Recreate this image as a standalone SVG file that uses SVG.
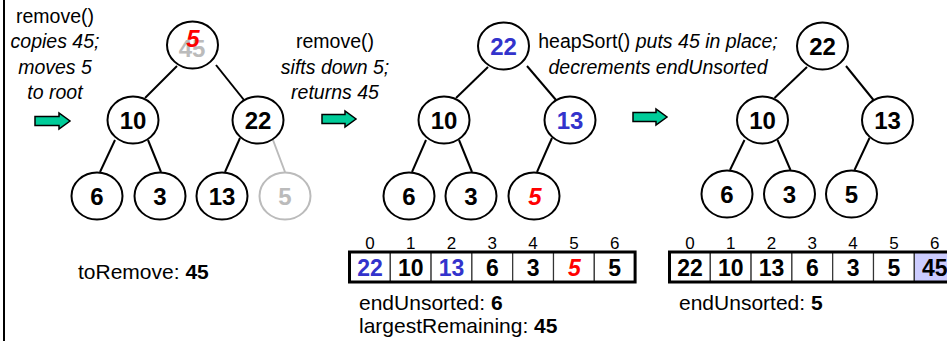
<svg xmlns="http://www.w3.org/2000/svg" width="947" height="341" viewBox="0 0 947 341">
<style>
.lbl{font-family:"Liberation Sans",Arial,sans-serif;font-size:19.5px;fill:#000;text-anchor:middle}
.it{font-style:italic}
.nd{fill:#fff;stroke:#000;stroke-width:2}
.nt{font-family:"Liberation Sans",Arial,sans-serif;font-size:24px;font-weight:bold;text-anchor:middle;fill:#000}
.idx{font-family:"Liberation Sans",Arial,sans-serif;font-size:17px;text-anchor:middle;fill:#000}
.cv{font-family:"Liberation Sans",Arial,sans-serif;font-size:23px;font-weight:bold;text-anchor:middle;fill:#000}
text.gray{fill:#bbb}
text.red{fill:#f00;font-style:italic}
text.blue{fill:#3333cc}
.edge{stroke:#000;stroke-width:2;fill:none}
.arrow{fill:#00cc99;stroke:#000;stroke-width:1.5;stroke-linejoin:miter}
.info{font-family:"Liberation Sans",Arial,sans-serif;font-size:21px;fill:#000}
.b{font-weight:bold}
.cell{fill:#fff;stroke:#333;stroke-width:1.2}
.frame{fill:none;stroke:#000;stroke-width:3}
</style>
<line x1="4" y1="0" x2="4" y2="341" stroke="#000" stroke-width="2"/>

<g id="labels">
<text class="lbl" x="55" y="22.5">remove()</text>
<text class="lbl it" x="55" y="48">copies 45;</text>
<text class="lbl it" x="55" y="73.5">moves 5</text>
<text class="lbl it" x="55" y="99">to root</text>
<text class="lbl" x="335" y="48">remove()</text>
<text class="lbl it" x="335" y="73.5">sifts down 5;</text>
<text class="lbl it" x="335" y="99">returns 45</text>
<text class="lbl" x="658" y="48">heapSort() <tspan class="it">puts 45 in place;</tspan></text>
<text class="lbl it" x="658" y="73.5">decrements endUnsorted</text>
</g>

<g id="arrows">
<path class="arrow" d="M35,116.5 H59 V113 L70,121 L59,129 V125.5 H35 Z"/>
<path class="arrow" d="M322,114.5 H345 V111 L356,119 L345,127 V123.5 H322 Z"/>
<path class="arrow" d="M633,112.5 H656 V109 L667,117 L656,125 V121.5 H633 Z"/>
</g>

<g id="connectors">
<line class="edge" x1="177" y1="66" x2="145" y2="98"/>
<line class="edge" x1="216" y1="65" x2="244" y2="100"/>
<line class="edge" x1="115" y1="140" x2="100" y2="172"/>
<line class="edge" x1="148" y1="140" x2="161" y2="172"/>
<line class="edge" x1="240" y1="138" x2="225" y2="172"/>
<line class="edge" x1="273" y1="140" x2="285" y2="172" style="stroke:#bbb"/>
<line class="edge" x1="488" y1="67" x2="456" y2="98"/>
<line class="edge" x1="527" y1="66" x2="556" y2="100"/>
<line class="edge" x1="426" y1="140" x2="412" y2="172"/>
<line class="edge" x1="459" y1="140" x2="472" y2="172"/>
<line class="edge" x1="552" y1="138" x2="537" y2="172"/>
<line class="edge" x1="807" y1="67" x2="774.5" y2="98"/>
<line class="edge" x1="846" y1="66" x2="873.5" y2="100"/>
<line class="edge" x1="744.5" y1="140" x2="730" y2="170"/>
<line class="edge" x1="777.5" y1="140" x2="790.5" y2="170"/>
<line class="edge" x1="869.5" y1="138" x2="854.5" y2="170"/>
</g>

<g id="t1-root"><ellipse class="nd" cx="192.5" cy="45" rx="25.5" ry="23.5"/><text class="nt gray" x="192" y="56.5">45</text><text class="nt red" x="193" y="46.5">5</text></g>
<g id="t1-10"><ellipse class="nd" cx="133" cy="120" rx="25.5" ry="23.5"/><text class="nt" x="133" y="129">10</text></g>
<g id="t1-22"><ellipse class="nd" cx="258" cy="120" rx="25.5" ry="23.5"/><text class="nt" x="258" y="129">22</text></g>
<g id="t1-6"><ellipse class="nd" cx="97" cy="196" rx="25.5" ry="23.5"/><text class="nt" x="97" y="205">6</text></g>
<g id="t1-3"><ellipse class="nd" cx="160" cy="196" rx="25.5" ry="23.5"/><text class="nt" x="160" y="205">3</text></g>
<g id="t1-13"><ellipse class="nd" cx="222" cy="196" rx="25.5" ry="23.5"/><text class="nt" x="222" y="205">13</text></g>
<g id="t1-5"><ellipse class="nd" cx="285" cy="196" rx="25.5" ry="23.5" style="stroke:#bbb"/><text class="nt gray" x="285" y="205">5</text></g>

<g id="t2-root"><ellipse class="nd" cx="503.5" cy="46" rx="25.5" ry="23.5"/><text class="nt blue" x="503.5" y="55">22</text></g>
<g id="t2-10"><ellipse class="nd" cx="444" cy="120" rx="25.5" ry="23.5"/><text class="nt" x="444" y="129">10</text></g>
<g id="t2-13"><ellipse class="nd" cx="570" cy="120" rx="25.5" ry="23.5"/><text class="nt blue" x="570" y="129">13</text></g>
<g id="t2-6"><ellipse class="nd" cx="409" cy="196" rx="25.5" ry="23.5"/><text class="nt" x="409" y="205">6</text></g>
<g id="t2-3"><ellipse class="nd" cx="471" cy="196" rx="25.5" ry="23.5"/><text class="nt" x="471" y="205">3</text></g>
<g id="t2-5"><ellipse class="nd" cx="534" cy="196" rx="25.5" ry="23.5"/><text class="nt red" x="535" y="205">5</text></g>

<g id="t3-root"><ellipse class="nd" cx="822.5" cy="46" rx="25.5" ry="23.5"/><text class="nt" x="822.5" y="55">22</text></g>
<g id="t3-10"><ellipse class="nd" cx="762.5" cy="120" rx="25.5" ry="23.5"/><text class="nt" x="762.5" y="129">10</text></g>
<g id="t3-13"><ellipse class="nd" cx="887.5" cy="120" rx="25.5" ry="23.5"/><text class="nt" x="887.5" y="129">13</text></g>
<g id="t3-6"><ellipse class="nd" cx="727" cy="194" rx="25.5" ry="23.5"/><text class="nt" x="727" y="203">6</text></g>
<g id="t3-3"><ellipse class="nd" cx="789.5" cy="194" rx="25.5" ry="23.5"/><text class="nt" x="789.5" y="203">3</text></g>
<g id="t3-5"><ellipse class="nd" cx="851.5" cy="194" rx="25.5" ry="23.5"/><text class="nt" x="851.5" y="203">5</text></g>

<g id="array1">
<rect class="cell" x="349.5" y="252" width="40.8" height="30"/>
<rect class="cell" x="390.3" y="252" width="40.8" height="30"/>
<rect class="cell" x="431.1" y="252" width="40.8" height="30"/>
<rect class="cell" x="471.9" y="252" width="40.8" height="30"/>
<rect class="cell" x="512.7" y="252" width="40.8" height="30"/>
<rect class="cell" x="553.5" y="252" width="40.8" height="30"/>
<rect class="cell" x="594.3" y="252" width="40.8" height="30"/>
<rect class="frame" x="349.5" y="252" width="285.6" height="30"/>
<text class="idx" x="370" y="249">0</text><text class="idx" x="410.7" y="249">1</text><text class="idx" x="451.5" y="249">2</text><text class="idx" x="492.3" y="249">3</text><text class="idx" x="533.1" y="249">4</text><text class="idx" x="573.9" y="249">5</text><text class="idx" x="614.7" y="249">6</text>
<text class="cv blue" x="370" y="275.5">22</text><text class="cv" x="410.7" y="275.5">10</text><text class="cv blue" x="451.5" y="275.5">13</text><text class="cv" x="492.3" y="275.5">6</text><text class="cv" x="533.1" y="275.5">3</text><text class="cv red" x="574.5" y="275.5">5</text><text class="cv" x="614.7" y="275.5">5</text>
</g>

<g id="array2">
<rect class="cell" x="669.5" y="252" width="40.8" height="30"/>
<rect class="cell" x="710.3" y="252" width="40.8" height="30"/>
<rect class="cell" x="751.1" y="252" width="40.8" height="30"/>
<rect class="cell" x="791.9" y="252" width="40.8" height="30"/>
<rect class="cell" x="832.7" y="252" width="40.8" height="30"/>
<rect class="cell" x="873.5" y="252" width="40.8" height="30"/>
<rect class="cell" x="914.3" y="252" width="40.8" height="30" style="fill:#ccccff"/>
<rect class="frame" x="669.5" y="252" width="285.6" height="30"/>
<text class="idx" x="690" y="249">0</text><text class="idx" x="730.7" y="249">1</text><text class="idx" x="771.5" y="249">2</text><text class="idx" x="812.3" y="249">3</text><text class="idx" x="853.1" y="249">4</text><text class="idx" x="893.9" y="249">5</text><text class="idx" x="934.7" y="249">6</text>
<text class="cv" x="690" y="275.5">22</text><text class="cv" x="730.7" y="275.5">10</text><text class="cv" x="771.5" y="275.5">13</text><text class="cv" x="812.3" y="275.5">6</text><text class="cv" x="853.1" y="275.5">3</text><text class="cv" x="893.9" y="275.5">5</text><text class="cv" x="934.7" y="275.5">45</text>
</g>

<g id="info">
<text class="info" x="78" y="279">toRemove: <tspan class="b">45</tspan></text>
<text class="info" x="359" y="310">endUnsorted: <tspan class="b">6</tspan></text>
<text class="info" x="359" y="333">largestRemaining: <tspan class="b">45</tspan></text>
<text class="info" x="679" y="310">endUnsorted: <tspan class="b">5</tspan></text>
</g>
</svg>
